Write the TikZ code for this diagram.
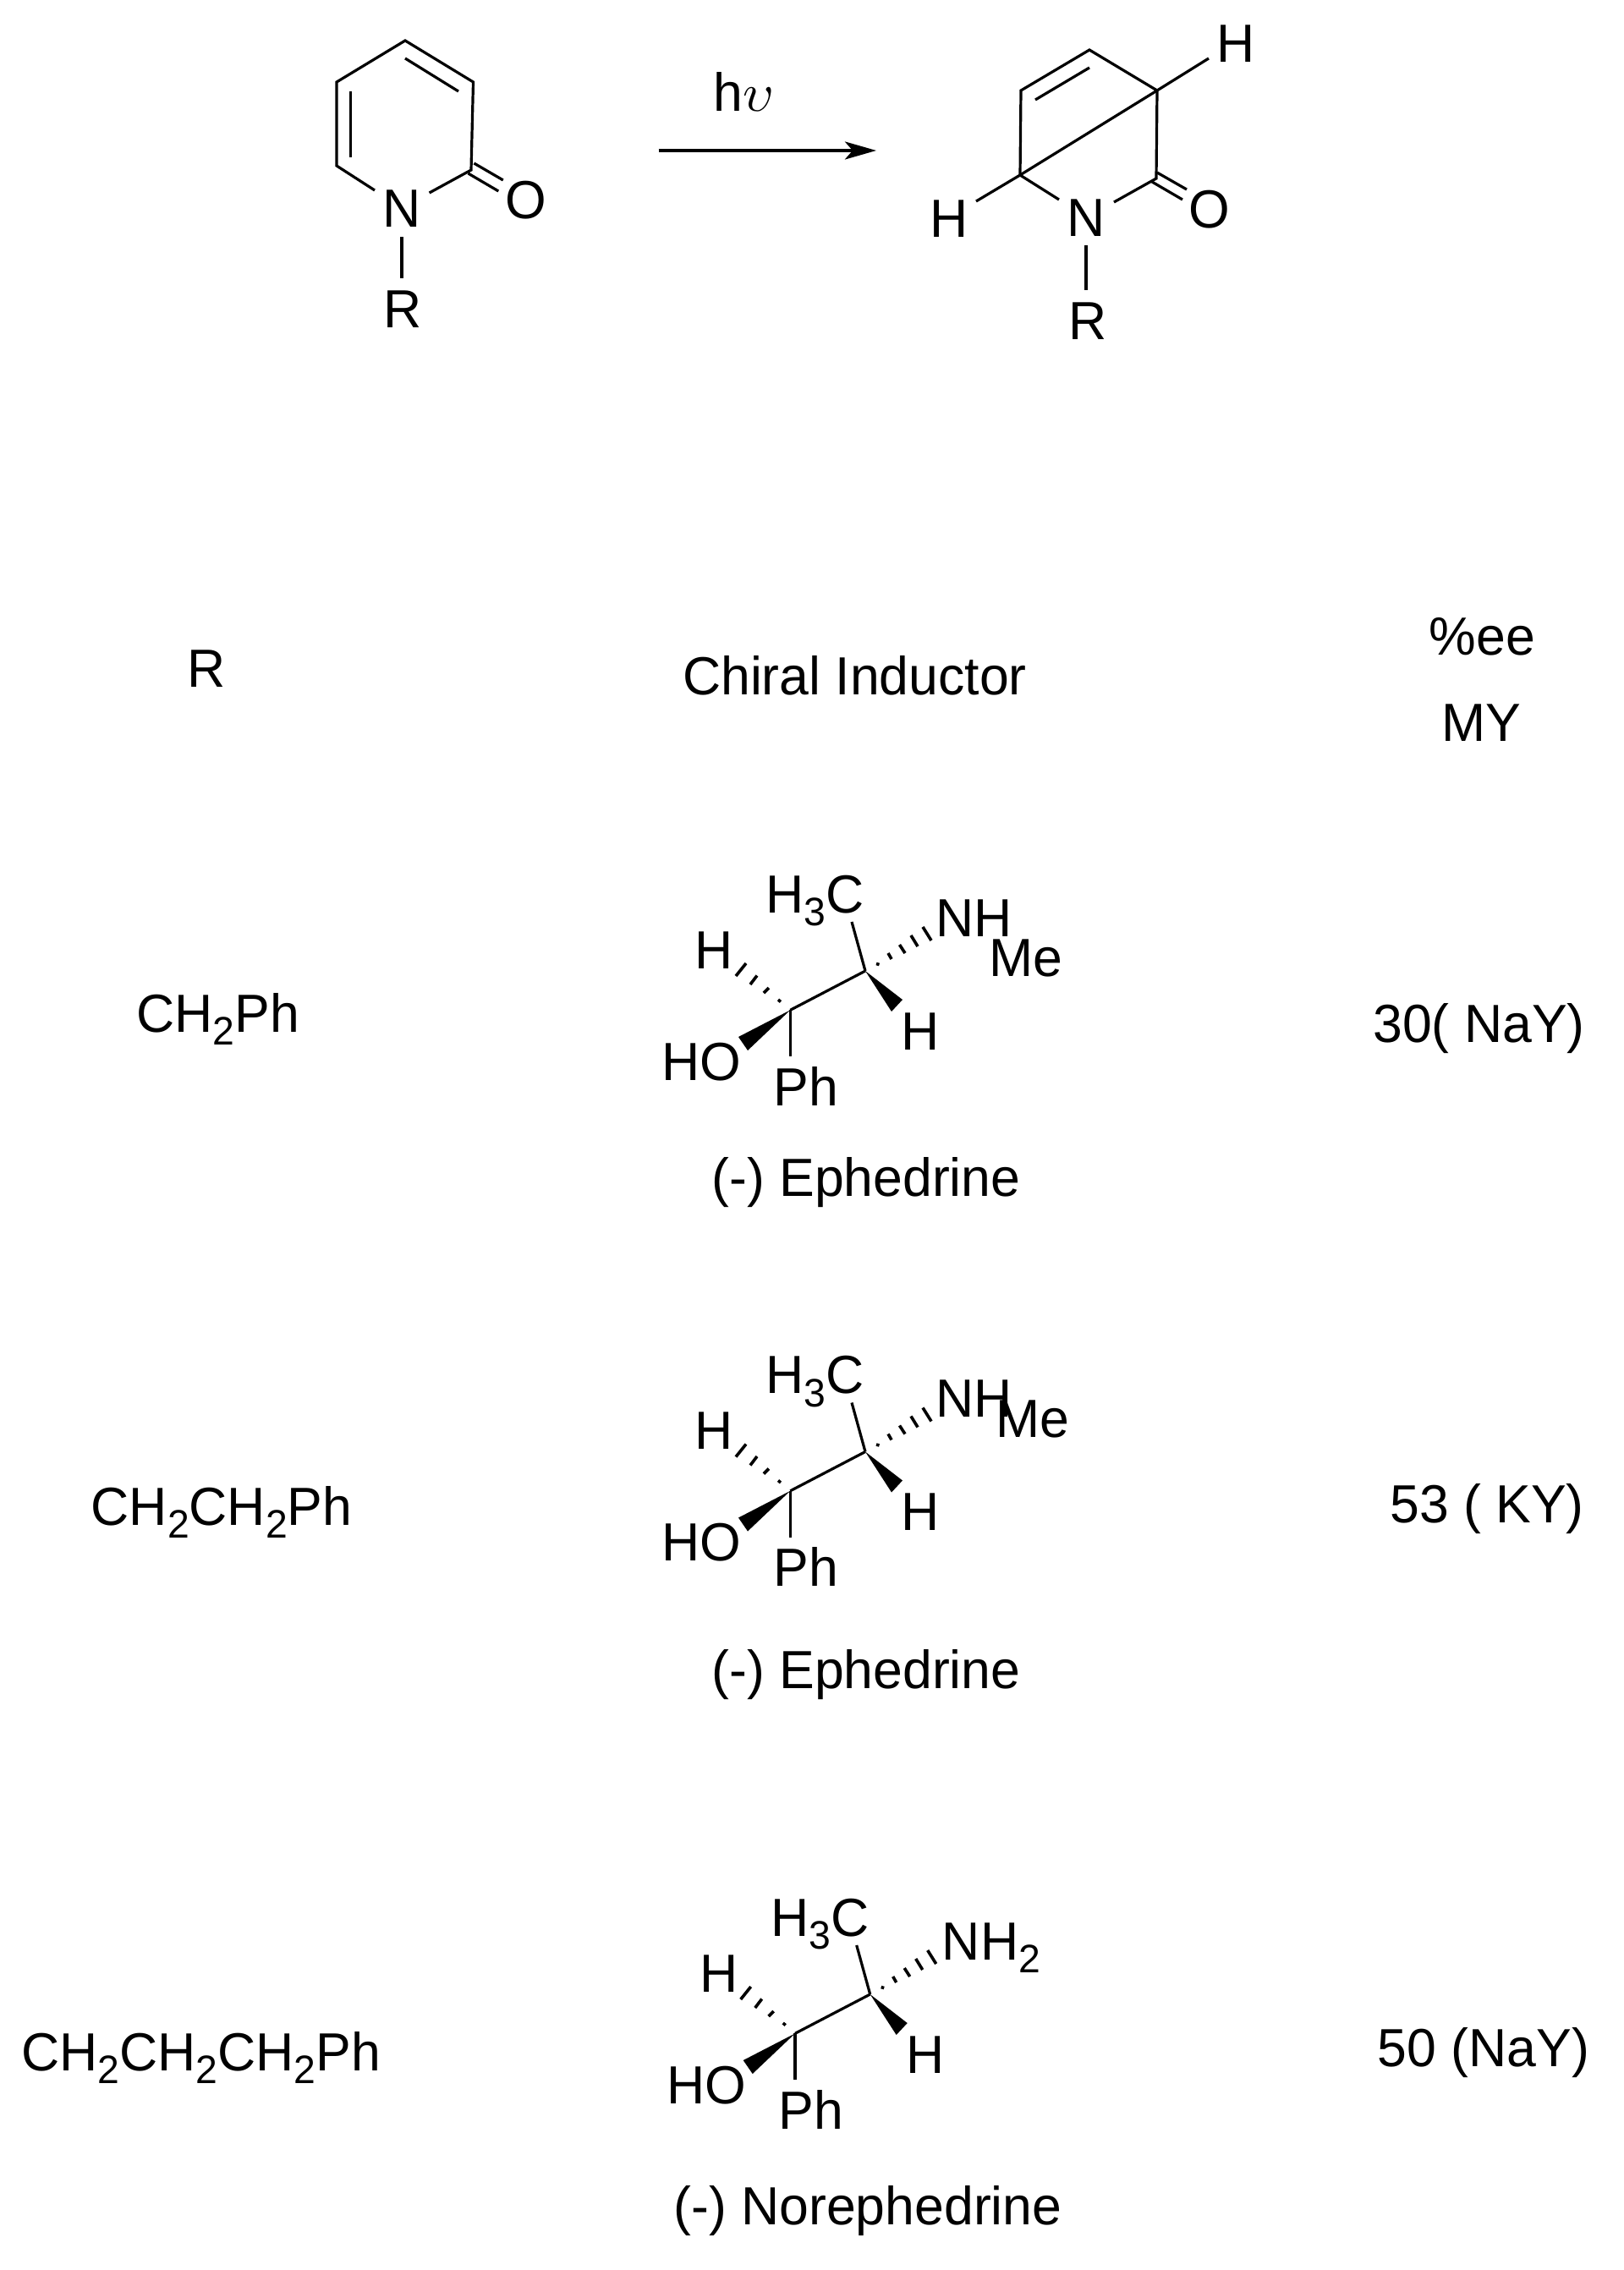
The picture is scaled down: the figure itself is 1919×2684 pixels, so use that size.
\documentclass[tikz,border=0pt]{standalone}
\usepackage{fontspec}
\setmainfont[FakeStretch=0.985]{Liberation Sans}
\usetikzlibrary{arrows.meta}
\newcommand{\lowtwo}[1]{\raisebox{-15.5pt}{\fontsize{47}{47}\selectfont #1}}
\tikzset{
  lab/.style={inner sep=0pt,outer sep=0pt,anchor=base,font=\fontsize{63.5}{70}\selectfont},
  bond/.style={line width=3.2pt,black},
  hashbar/.style={line width=3.6pt,black},
  rxnarrow/.style={line width=3.8pt,-{Stealth[length=37pt,width=21pt,inset=9pt]}},
}
\newcommand{\inductor}[5]{%
\begin{scope}[shift={(#2,#3)},name prefix=#1-]
  \coordinate (C1) at (934.3,1194.3);
  \coordinate (C2) at (1023,1148);
  \coordinate (meEnd) at (1007,1090);
  \coordinate (phEnd) at (934.3,1249);
  \coordinate (wa1) at (873,1226);
  \coordinate (wa2) at (884,1242);
  \coordinate (wb1) at (1067,1182);
  \coordinate (wb2) at (1054,1196);
  \node[lab] (hc) at (963.5,1079) {H\lowtwo{3}C};
  \node[lab] (hl) at (844.5,1145) {H};
  \node[lab] (hr) at (1088.5,1241) {H};
  \node[lab] (ho) at (829.5,1277) {HO};
  \node[lab] (ph) at (953,1307) {Ph};
  #4
  \draw[bond] (C1) -- (C2);
  \draw[bond] (C2) -- (meEnd);
  \draw[bond] (C1) -- (phEnd);
  \fill (C1) -- (wa1) -- (wa2) -- cycle;
  \fill (C2) -- (wb1) -- (wb2) -- cycle;
  \draw[hashbar] (920,1182) -- (923,1184.5);
  \draw[hashbar] (903,1174) -- (909,1168);
  \draw[hashbar] (887,1164) -- (895,1153.5);
  \draw[hashbar] (870,1154) -- (882,1139);
  \draw[hashbar] (1036,1139.5) -- (1039.5,1140.5);
  \draw[hashbar] (1050,1127) -- (1054,1134);
  \draw[hashbar] (1063.5,1117) -- (1070,1127);
  \draw[hashbar] (1077,1106) -- (1085,1119);
  \draw[hashbar] (1091,1096) -- (1101,1112);
  #5
\end{scope}}
\begin{document}
\begin{tikzpicture}[x=1pt,y=-1pt]
\useasboundingbox (0,0) rectangle (1919,2684);
% substrate
\coordinate (a1) at (479,48);
\coordinate (a2) at (559.5,97);
\coordinate (a3) at (557,201);
\coordinate (a4) at (398,196);
\coordinate (a5) at (398,97);
\coordinate (a4n) at (443,225);
\coordinate (a3n) at (507.6,228);
\coordinate (anr) at (475,280);
\coordinate (arn) at (475,329);
\node[lab] (aN) at (475.4,268) {N};
\node[lab] (aO) at (621.5,258) {O};
\node[lab] (aR) at (476.4,387) {R};
\draw[bond] (a4n) -- (a4) -- (a5) -- (a1) -- (a2) -- (a3) -- (a3n);
\draw[bond] (414.8,108) -- (414.8,186);
\draw[bond] (479,69) -- (542,108);
\draw[bond] (560.4,193) -- (594.8,213);
\draw[bond] (553.5,205) -- (589.3,226);
\draw[bond] (anr) -- (arn);
% arrow
\coordinate (arrS) at (778.5,178);
\coordinate (arrE) at (1036,178);
\draw[rxnarrow] (arrS) -- (arrE);
\node[lab] (hv) at (879.5,132) {h\scalebox{6.4}{\fontsize{10}{12}\selectfont$\upsilon$}};
% product
\coordinate (b1) at (1288,59);
\coordinate (b2) at (1368,107);
\coordinate (b3) at (1367,211);
\coordinate (b4) at (1206,207);
\coordinate (b5) at (1207,107);
\coordinate (b4n) at (1252,236);
\coordinate (b3n) at (1317,239);
\coordinate (bh1) at (1429,69);
\coordinate (bh2) at (1154,238);
\coordinate (bnr) at (1284,290);
\coordinate (brn) at (1284,343);
\node[lab] (bN) at (1284,279) {N};
\node[lab] (bO) at (1430,269) {O};
\node[lab] (bR) at (1286,401) {R};
\node[lab] (bHa) at (1461,74) {H};
\node[lab] (bHb) at (1122,280) {H};
\draw[bond] (b4n) -- (b4) -- (b5) -- (b1) -- (b2) -- (b3) -- (b3n);
\draw[bond] (b4) -- (b2);
\draw[bond] (1288,80) -- (1224,118);
\draw[bond] (b2) -- (bh1);
\draw[bond] (b4) -- (bh2);
\draw[bond] (1368,204) -- (1403,224);
\draw[bond] (1362,215) -- (1398,236);
\draw[bond] (bnr) -- (brn);
% headers
\node[lab] (hR) at (244.5,812) {R};
\node[lab] (hCI) at (1010.5,821) {Chiral Inductor};
\node[lab] (hEE) at (1752.5,774) {\%ee};
\node[lab] (hMY) at (1751,876) {MY};
% first column
\node[lab] (r1) at (257.5,1220) {CH\lowtwo{2}Ph};
\node[lab] (r2) at (262,1803) {CH\lowtwo{2}CH\lowtwo{2}Ph};
\node[lab] (r3) at (237.5,2448) {CH\lowtwo{2}CH\lowtwo{2}CH\lowtwo{2}Ph};
% inductors
\inductor{m1}{0}{0}{\node[lab] (nh) at (1151.5,1107) {NH};\node[lab] (me) at (1213,1154) {Me};}{}
\node[lab] (n1) at (1024,1414) {(-) Ephedrine};
\inductor{m2}{0}{568.5}{\node[lab] (nh) at (1151.5,1107) {NH};\node[lab] (me) at (1220.5,1130.5) {Me};}{}
\node[lab] (n2) at (1024,1996) {(-) Ephedrine};
\inductor{m3}{5.7}{1210}{\node[lab] (nh) at (1166.3,1107) {NH\lowtwo{2}};}{}
\node[lab] (n3) at (1026,2630) {(-) Norephedrine};
% yields
\node[lab] (y1) at (1748.5,1232) {30( NaY)};
\node[lab] (y2) at (1758,1800) {53 ( KY)};
\node[lab] (y3) at (1754,2443) {50 (NaY)};
\end{tikzpicture}
\end{document}
